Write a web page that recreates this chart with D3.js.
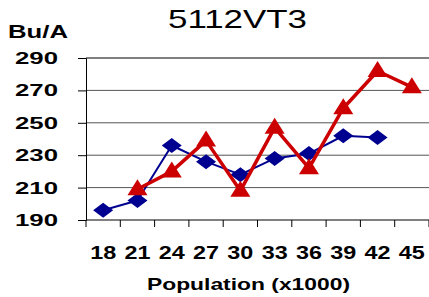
<!DOCTYPE html>
<html>
<head>
<meta charset="utf-8">
<script src="https://cdn.jsdelivr.net/npm/d3@7"></script>
<style>
  body { margin: 0; background: #fff; }
  svg { display: block; font-family: "Liberation Sans", Arial, sans-serif; }
</style>
</head>
<body>
<div id="chart"></div>
<script>
const width = 429;
const height = 297;

const populations = ["18", "21", "24", "27", "30", "33", "36", "39", "42", "45"];
const yTicks = [190, 210, 230, 250, 270, 290];
// null = no value at that population
const blueSeries = [196, 202, 236, 226, 218, 228, 231, 242, 241, null];
const redSeries = [null, 209, 220, 239, 208, 247, 222, 259, 282, 272];

const plot = { left: 86, right: 429, top: 58, bottom: 220 };

let x = d3.scaleBand().domain(populations).range([plot.left, plot.right]);
let y = d3.scaleLinear().domain([190, 290]).range([plot.bottom, plot.top]);

let svg = d3.select("#chart").append("svg")
  .attr("width", width)
  .attr("height", height);

// gridlines
svg.append("g")
  .selectAll("line")
  .data(yTicks.slice(1))
  .enter().append("line")
  .attr("x1", plot.left)
  .attr("x2", plot.right)
  .attr("y1", d => y(d))
  .attr("y2", d => y(d))
  .attr("stroke", (d, i) => d === 290 ? "#000" : "#555")
  .attr("stroke-width", 1);

// y axis
let yAxis = svg.append("g")
  .attr("transform", "translate(" + plot.left + ",0)")
  .call(d3.axisLeft(y).tickValues(yTicks).tickSize(8).tickFormat(""));
yAxis.select(".domain").attr("stroke", "#000");

svg.append("g")
  .selectAll("text")
  .data(yTicks)
  .enter().append("text")
  .attr("x", 58)
  .attr("y", d => y(d) + 6)
  .attr("text-anchor", "end")
  .attr("font-size", 17)
  .attr("font-weight", "bold")
  .attr("textLength", 43)
  .attr("lengthAdjust", "spacingAndGlyphs")
  .text(d => d);

// x axis
let xAxis = svg.append("g")
  .attr("transform", "translate(0," + plot.bottom + ")")
  .call(d3.axisBottom(x).tickSize(0).tickFormat(""));
xAxis.select(".domain").attr("stroke", "#000").attr("d", "M" + plot.left + ",0H" + plot.right);

svg.append("g")
  .selectAll("line")
  .data(d3.range(populations.length + 1))
  .enter().append("line")
  .attr("x1", i => plot.left + i * x.step())
  .attr("x2", i => plot.left + i * x.step())
  .attr("y1", plot.bottom)
  .attr("y2", plot.bottom + 7)
  .attr("stroke", "#000");

svg.append("g")
  .selectAll("text")
  .data(populations)
  .enter().append("text")
  .attr("x", d => x(d) + x.bandwidth() / 2)
  .attr("y", 259)
  .attr("text-anchor", "middle")
  .attr("font-size", 19)
  .attr("font-weight", "bold")
  .attr("textLength", 26)
  .attr("lengthAdjust", "spacingAndGlyphs")
  .text(d => d);

// titles
svg.append("text")
  .attr("x", 168).attr("y", 28)
  .attr("font-size", 26)
  .attr("textLength", 139)
  .attr("lengthAdjust", "spacingAndGlyphs")
  .text("5112VT3");

svg.append("text")
  .attr("x", 8).attr("y", 38)
  .attr("font-size", 18)
  .attr("font-weight", "bold")
  .attr("textLength", 60)
  .attr("lengthAdjust", "spacingAndGlyphs")
  .text("Bu/A");

svg.append("text")
  .attr("x", 147).attr("y", 290)
  .attr("font-size", 17)
  .attr("font-weight", "bold")
  .attr("textLength", 203)
  .attr("lengthAdjust", "spacingAndGlyphs")
  .text("Population (x1000)");

// series
function drawSeries(values, color, lineWidth, marker) {
  let pts = populations.map((p, i) => ({ p: p, v: values[i] })).filter(d => d.v !== null);
  let line = d3.line()
    .x(d => x(d.p) + x.bandwidth() / 2)
    .y(d => y(d.v));
  svg.append("path")
    .datum(pts)
    .attr("fill", "none")
    .attr("stroke", color)
    .attr("stroke-width", lineWidth)
    .attr("stroke-linejoin", "round")
    .attr("d", line);
  svg.append("g")
    .selectAll("path")
    .data(pts)
    .enter().append("path")
    .attr("transform", d => "translate(" + (x(d.p) + x.bandwidth() / 2) + "," + y(d.v) + ")")
    .attr("d", marker)
    .attr("fill", color);
}

drawSeries(blueSeries, "#000090", 2, "M-10,0L0,-7.5L10,0L0,7.5Z");
drawSeries(redSeries, "#cc0000", 3.5, "M0,-10L10,6L-10,6Z");
</script>
</body>
</html>
